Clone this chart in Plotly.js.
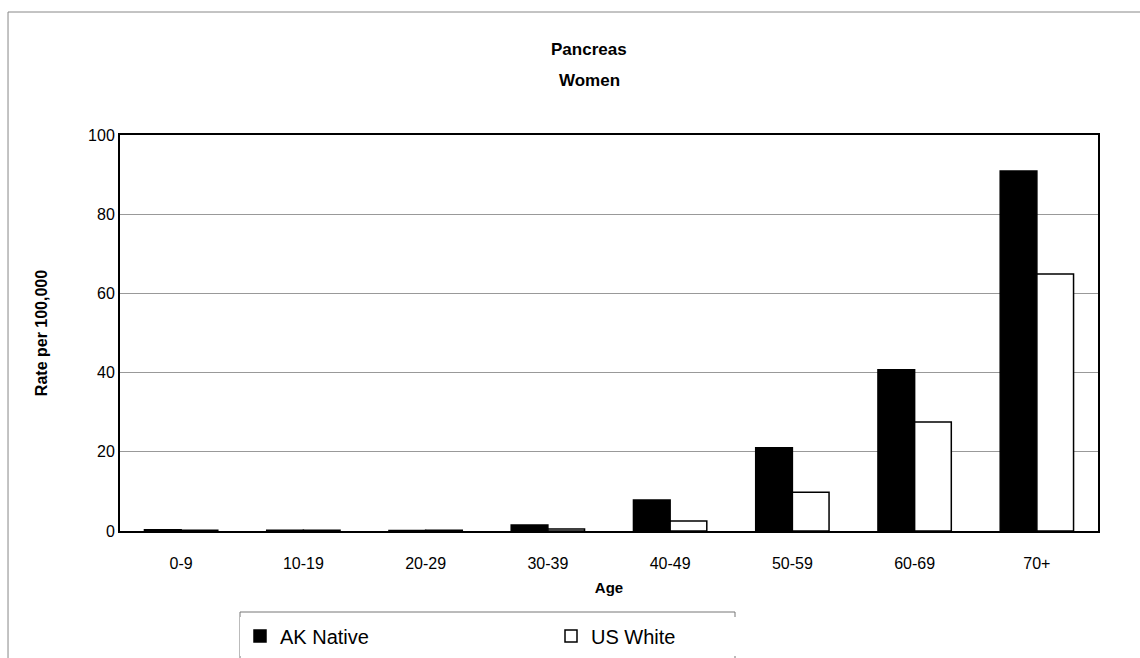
<!DOCTYPE html>
<html><head><meta charset="utf-8">
<script src="https://cdn.plot.ly/plotly-3.0.1.min.js"></script>
<style>body{margin:0;padding:0;background:#fff}#chart{width:1140px;height:658px}</style>
</head><body><div id="chart"></div>
<script>
const categories = ["0-9","10-19","20-29","30-39","40-49","50-59","60-69","70+"];
const akNative = [0.3, 0.2, 0.1, 1.5, 7.8, 21.0, 40.7, 90.9];
const usWhite = [0.2, 0.2, 0.2, 0.5, 2.5, 9.8, 27.5, 64.9];
const seriesNames = ["AK Native", "US White"];
const yTicks = [0, 20, 40, 60, 80, 100];
const titleLines = ["Pancreas", "Women"];

const font = "Liberation Sans, Arial, sans-serif";
const traces = [
  {type:"bar", name:seriesNames[0], x:categories, y:akNative,
   marker:{color:"#000", line:{color:"#000", width:1.5}}},
  {type:"bar", name:seriesNames[1], x:categories, y:usWhite,
   marker:{color:"#fff", line:{color:"#000", width:1.5}}}
];
const layout = {
  width:1140, height:658,
  margin:{l:120, r:42, t:135, b:127},
  paper_bgcolor:"#fff", plot_bgcolor:"#fff",
  font:{family:font, color:"#000", size:16},
  barmode:"group", bargap:0.4, bargroupgap:0,
  xaxis:{title:{text:"<b>Age</b>", font:{size:15}, standoff:11}, automargin:false,
         showline:true, linecolor:"#000", linewidth:2, mirror:true,
         ticks:"", tickfont:{size:16}, ticklabelstandoff:17},
  yaxis:{title:{text:"<b>Rate per 100,000</b>", font:{size:16}, standoff:36}, automargin:false,
         range:[0,100], tickvals:yTicks, showline:true, linecolor:"#000", linewidth:2, mirror:true,
         ticks:"", showgrid:true, gridcolor:"#999", gridwidth:1, zeroline:false, tickfont:{size:16}},
  showlegend:true,
  legend:{orientation:"h", xref:"container", yref:"container", x:240/1140, xanchor:"left",
          y:1-636/658, yanchor:"middle",
          borderwidth:0, font:{size:20, family:font},
          entrywidth:266, itemwidth:30},
  annotations:[
    {text:"<b>"+titleLines[0]+"</b>", xref:"paper", yref:"paper", x:(589-120)/978, y:(531-50)/396,
     xanchor:"center", yanchor:"middle", showarrow:false, font:{size:17, family:font}},
    {text:"<b>"+titleLines[1]+"</b>", xref:"paper", yref:"paper", x:(589-120)/978, y:(531-80)/396,
     xanchor:"center", yanchor:"middle", showarrow:false, font:{size:17, family:font}}
  ],
  shapes:[
    {type:"rect", xref:"paper", yref:"paper", x0:-0.1145, x1:1.05, y0:-0.4, y1:1.3106,
     line:{color:"#888", width:1}, fillcolor:"rgba(0,0,0,0)", layer:"below"},
    {type:"rect", xref:"paper", yref:"paper", x0:(240-120)/978, x1:(735-120)/978, y0:-0.4, y1:(531-612)/396,
     line:{color:"#777", width:1}, fillcolor:"rgba(0,0,0,0)", layer:"below"}
  ]
};
Plotly.newPlot("chart", traces, layout, {displayModeBar:false});
</script></body></html>
